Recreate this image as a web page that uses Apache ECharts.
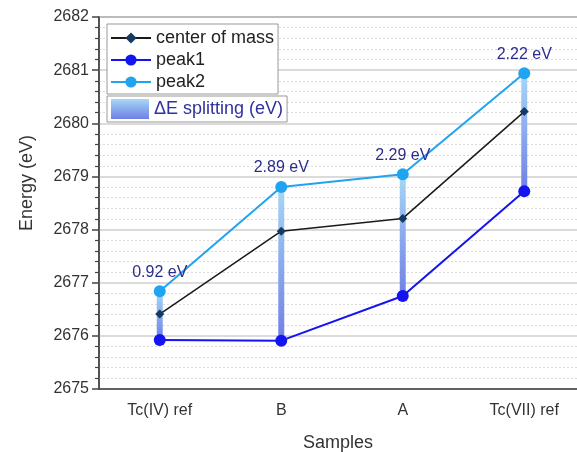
<!DOCTYPE html>
<html>
<head>
<meta charset="utf-8">
<script src="https://cdn.jsdelivr.net/npm/echarts@6/dist/echarts.min.js"></script>
<style>html,body{margin:0;padding:0;background:#fff;}#c{width:577px;height:452px;}</style>
</head>
<body>
<div id="c"></div>
<script>
var categories = ['Tc(IV) ref', 'B', 'A', 'Tc(VII) ref'];
var centerOfMass = [2676.41, 2677.97, 2678.21, 2680.22];
var peak1 = [2675.92, 2675.91, 2676.75, 2678.72];
var peak2 = [2676.84, 2678.80, 2679.04, 2680.94];
var splitLabels = ['0.92 eV', '2.89 eV', '2.29 eV', '2.22 eV'];
var yTicks = [2675, 2676, 2677, 2678, 2679, 2680, 2681, 2682];

var FONT = 'Liberation Sans, Arial, sans-serif';
function grad() {
  return new echarts.graphic.LinearGradient(0, 0, 0, 1, [
    {offset: 0, color: '#a6d8f6'},
    {offset: 1, color: '#6f7fe6'}
  ]);
}
var splitData = categories.map(function (c, i) { return [i, peak1[i], peak2[i]]; });

var chart = echarts.init(document.getElementById('c'), null, {renderer: 'canvas'});
chart.setOption({
  backgroundColor: '#fff',
  animation: false,
  textStyle: {fontFamily: FONT},
  grid: {left: 99, top: 17, right: -8, bottom: 63, outerBoundsMode: 'none', containLabel: false,
    show: true, borderColor: '#555', borderWidth: 1.5, backgroundColor: 'transparent'},
  legend: [{
    left: 107, top: 24,
    orient: 'vertical',
    data: ['center of mass', 'peak1', 'peak2'],
    itemWidth: 40, itemHeight: 14, itemGap: 4,
    padding: [5, 4, 3, 3],
    borderColor: '#999', borderWidth: 1,
    backgroundColor: '#fff',
    textStyle: {fontSize: 18, color: '#222', fontFamily: FONT}
  }, {
    left: 107, top: 96,
    data: [{name: '\u0394E splitting (eV)', icon: 'rect', itemStyle: {color: grad()}, textStyle: {color: '#3030a0'}}],
    itemWidth: 38, itemHeight: 20,
    padding: [3, 4, 3, 4],
    borderColor: '#999', borderWidth: 1,
    backgroundColor: '#fff',
    textStyle: {fontSize: 18, color: '#3030a0', fontFamily: FONT}
  }],
  xAxis: {
    type: 'category',
    data: categories,
    boundaryGap: true,
    name: 'Samples',
    nameLocation: 'middle',
    nameGap: 45,
    nameTextStyle: {fontSize: 18, color: '#333', fontFamily: FONT, padding: [0, 8, 0, 0]},
    axisLine: {lineStyle: {color: '#444', width: 1.5}},
    axisTick: {alignWithLabel: true, length: 8, lineStyle: {color: '#444', width: 1.5}},
    axisLabel: {fontSize: 16, color: '#333', margin: 14, fontFamily: FONT},
    splitLine: {show: false}
  },
  yAxis: {
    type: 'value',
    min: 2675, max: 2682, interval: 1,
    name: 'Energy (eV)',
    nameLocation: 'middle',
    nameGap: 63,
    nameTextStyle: {fontSize: 18, color: '#333', fontFamily: FONT, padding: [0, 0, 0, 40]},
    axisLine: {show: true, lineStyle: {color: '#444', width: 1.5}},
    axisTick: {show: true, length: 7, lineStyle: {color: '#444', width: 1.5}},
    minorTick: {show: true, splitNumber: 5, length: 4, lineStyle: {color: '#444', width: 1.2}},
    axisLabel: {fontSize: 16, color: '#333', margin: 10, fontFamily: FONT,
      formatter: function (v) { return yTicks.indexOf(v) >= 0 ? String(v) : ''; }},
    splitLine: {show: true, lineStyle: {color: '#cfcfcf', width: 1.5}},
    minorSplitLine: {show: true, lineStyle: {color: '#dadada', width: 1, type: [2, 2]}}
  },
  series: [{
    name: '\u0394E splitting (eV)',
    type: 'custom',
    z: 1,
    itemStyle: {color: grad()},
    renderItem: function (params, api) {
      var p1 = api.coord([api.value(0), api.value(1)]);
      var p2 = api.coord([api.value(0), api.value(2)]);
      var w = 6;
      return {
        type: 'rect',
        shape: {x: p2[0] - w / 2, y: p2[1], width: w, height: p1[1] - p2[1]},
        style: {fill: grad()}
      };
    },
    encode: {x: 0, y: [1, 2]},
    data: splitData
  }, {
    name: 'peak1',
    type: 'line',
    z: 3,
    data: peak1,
    symbol: 'circle', symbolSize: 12,
    lineStyle: {color: '#1414f0', width: 2},
    itemStyle: {color: '#1414f0'}
  }, {
    name: 'peak2',
    type: 'line',
    z: 3,
    data: peak2,
    symbol: 'circle', symbolSize: 12,
    lineStyle: {color: '#20a4f0', width: 2},
    itemStyle: {color: '#20a4f0'},
    label: {show: true, position: 'top', distance: 5, fontSize: 16, color: '#2c2c8c', fontFamily: FONT,
      formatter: function (p) { return splitLabels[p.dataIndex]; }}
  }, {
    name: 'center of mass',
    type: 'line',
    z: 4,
    data: centerOfMass,
    symbol: 'diamond', symbolSize: 9,
    lineStyle: {color: '#1a1a1a', width: 1.5},
    itemStyle: {color: '#173a5e'}
  }]
});
</script>
</body>
</html>
